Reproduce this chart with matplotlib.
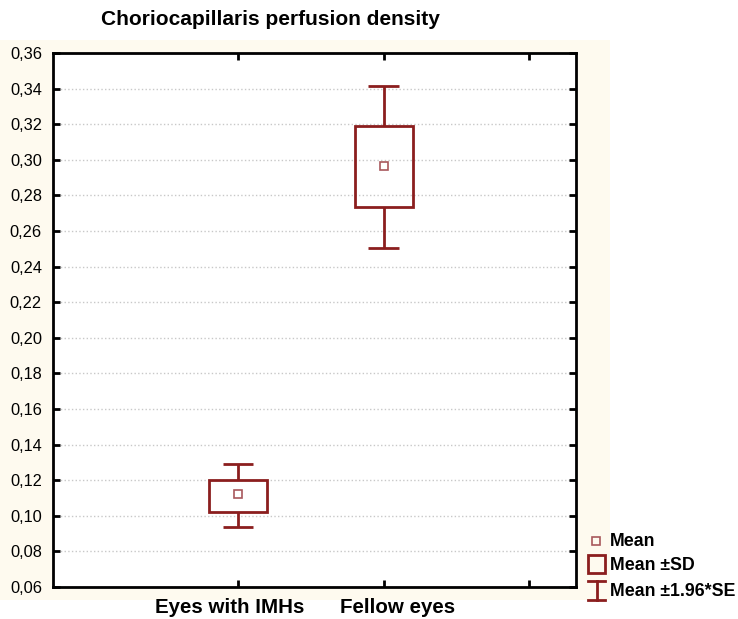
import matplotlib
matplotlib.use('Agg')
import matplotlib.pyplot as plt
from matplotlib.patches import Rectangle
from matplotlib.lines import Line2D
from matplotlib.transforms import ScaledTranslation
import numpy as np

plt.rcParams['font.family'] = ['Liberation Sans', 'DejaVu Sans']

# data
groups = ['Eyes with IMHs', 'Fellow eyes']
mean = [0.1120, 0.2965]
sd_low = [0.1021, 0.2735]
sd_high = [0.1201, 0.3190]
se_low = [0.0935, 0.2505]
se_high = [0.1290, 0.3415]
yticks = np.arange(0.06, 0.3601, 0.02)

red = '#8B1E1E'
cream = '#FEFAEF'

fig = plt.figure(figsize=(7.38, 6.19), dpi=100)
fig.patch.set_facecolor('white')
fig.patches.append(Rectangle((0, 0.031), 0.8266, 0.904, transform=fig.transFigure,
                             facecolor=cream, edgecolor='none', zorder=-10))

ax = fig.add_axes([0.0718, 0.0517, 0.7087, 0.8627])
ax.set_zorder(1)
ax.set_facecolor('white')

pos = np.arange(1, len(groups) + 1)
box_w = 0.40
cap_w = 0.21
for i, p in enumerate(pos):
    ax.vlines(p, se_low[i], sd_low[i], color=red, lw=2)
    ax.vlines(p, sd_high[i], se_high[i], color=red, lw=2)
    ax.hlines([se_low[i], se_high[i]], p - cap_w / 2, p + cap_w / 2, color=red, lw=2)
    ax.add_patch(Rectangle((p - box_w / 2, sd_low[i]), box_w, sd_high[i] - sd_low[i],
                           facecolor='none', edgecolor=red, lw=2, zorder=3))
ax.plot(pos, mean, ls='none', marker='s', ms=6, mfc='none', mec='#A8585C', mew=1.2, zorder=4)

ax.set_xlim(-0.27, 3.32)
ax.set_ylim(0.06, 0.36)
ax.set_yticks(yticks)
ax.set_yticklabels([f'{v:.2f}'.replace('.', ',') for v in yticks], fontsize=11.8)
ax.set_xticks([1, 2, 3])
ax.set_xticklabels(groups + [''], fontsize=14.8, fontweight='bold')
ax.tick_params(axis='both', direction='in', length=5, width=2, top=True, right=True, colors='black')
ax.tick_params(axis='x', pad=8)
ax.tick_params(axis='y', pad=8)
ax.grid(axis='y', color='#C8C8C8', ls=':', lw=1)
for s in ax.spines.values():
    s.set_linewidth(2)

# the category labels sit a little off their ticks in the original
for lab, dx in zip(ax.get_xticklabels(), [-8, 14]):
    lab.set_transform(lab.get_transform() + ScaledTranslation(dx / 100, 0, fig.dpi_scale_trans))

fig.text(0.366, 0.968, 'Choriocapillaris perfusion density', fontsize=15,
         fontweight='bold', ha='center', va='center')

# legend drawn by hand to the right of the plot
W, H = 738, 619
fig.add_artist(Line2D([596 / W], [1 - 541 / H], marker='s', ms=6, mfc='none',
                      mec='#A8585C', mew=1.2, ls='none', transform=fig.transFigure))
fig.patches.append(Rectangle((588 / W, 1 - 573 / H), 17 / W, 18 / H, transform=fig.transFigure,
                             facecolor='none', edgecolor=red, lw=2))
fig.add_artist(Line2D([596.5 / W, 596.5 / W], [1 - 581 / H, 1 - 600 / H], color=red, lw=2,
                      transform=fig.transFigure))
fig.add_artist(Line2D([588 / W, 605 / W], [1 - 581 / H, 1 - 581 / H], color=red, lw=2,
                      transform=fig.transFigure))
fig.add_artist(Line2D([588 / W, 605 / W], [1 - 600 / H, 1 - 600 / H], color=red, lw=2,
                      transform=fig.transFigure))
for label, yy in [('Mean', 541), ('Mean \u00b1SD', 565), ('Mean \u00b11.96*SE', 591)]:
    fig.text(610 / W, 1 - yy / H, label, fontsize=12.8, fontweight='bold', ha='left', va='center')

fig.savefig('out.png', dpi=100, facecolor=fig.get_facecolor())
